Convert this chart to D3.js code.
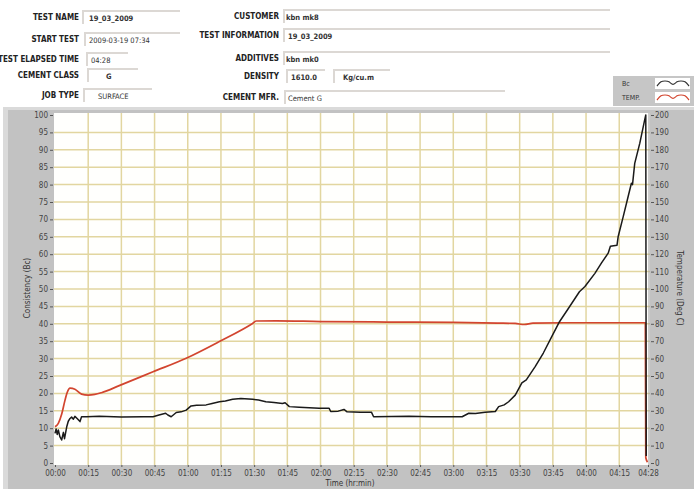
<!DOCTYPE html>
<html>
<head>
<meta charset="utf-8">
<script src="https://cdn.jsdelivr.net/npm/d3@7"></script>
<style>
  body { margin: 0; background: #ffffff; }
  svg { display: block; }
</style>
</head>
<body>
<script>
// Consistometer test chart: Bc (left axis) and temperature (right axis) vs time

// Time in minutes, consistency in Bc
var bcTime  = [0, 0.5, 1, 1.5, 2.2, 3, 3.8, 4.3, 5.3, 6, 6.8, 7.5, 8.3, 9, 10, 11.3, 12, 14.3, 20, 30, 40, 44.3, 47, 50, 51, 52.5, 54.8, 57, 59.3, 61.5, 64, 68.3, 71, 74.3, 77, 80.3, 84, 89.3, 92, 95.3, 99, 102.8, 104, 105.9, 110.4, 119.4, 123.9, 124.6, 128, 130.6, 132, 138, 143, 144, 160, 170, 184, 187, 190, 194.4, 199, 200.5, 203, 205, 208, 211, 213, 217, 220.7, 224.5, 228, 232, 237, 239.5, 244, 247, 250, 251, 254, 254.5, 256.8, 259, 260.5, 261, 262, 264.3, 266.5, 267, 267.2];
var bcValue = [8.5, 9.8, 8.2, 9.5, 7.6, 6.6, 8.8, 7, 10.4, 12, 12.8, 13.2, 12.6, 13.4, 12.8, 11.9, 13.3, 13.3, 13.4, 13.2, 13.3, 13.3, 13.8, 14.3, 13.8, 13.3, 14.5, 14.7, 15.2, 16.4, 16.6, 16.7, 17.1, 17.6, 17.8, 18.3, 18.5, 18.3, 18.1, 17.6, 17.4, 17.1, 17.3, 16.2, 16, 15.7, 15.7, 14.8, 14.9, 15.4, 14.7, 14.6, 14.6, 13.3, 13.4, 13.3, 13.3, 14.3, 14.2, 14.6, 14.8, 16.2, 16.7, 17.6, 19.5, 23, 23.9, 27.7, 31.6, 36.3, 40.6, 44.4, 49.2, 50.7, 54.5, 57.5, 60.3, 62.3, 62.6, 65, 70.8, 76.5, 80.4, 80, 86.1, 91.9, 98.6, 100, 2];

// Time in minutes, temperature in deg C
var tempTime  = [0, 1.5, 3, 4.5, 5.5, 6.8, 9, 12, 15, 18, 21, 29.3, 44.3, 59.3, 74.3, 89.3, 91, 100, 120, 150, 180, 200, 208, 212, 216, 230, 250, 266.8, 267, 267.8];
var tempValue = [20.8, 22.8, 28, 36, 40.5, 43, 42.4, 39.6, 39, 39.4, 40.4, 44.6, 52.4, 60.2, 69.8, 80.2, 81.6, 81.7, 81.3, 81, 80.8, 80.4, 80.2, 79.6, 80.4, 80.6, 80.6, 80.6, 3, 0.5];

// Tick values
var xTicks = [0, 15, 30, 45, 60, 75, 90, 105, 120, 135, 150, 165, 180, 195, 210, 225, 240, 255, 268];
var leftTicks = d3.range(0, 101, 5);
var rightTicks = d3.range(0, 201, 10);

// Header fields: label, value
var headerLeft = [
  ["TEST NAME", "19_03_2009"],
  ["START TEST", "2009-03-19 07:34"],
  ["TEST ELAPSED TIME", "04:28"],
  ["CEMENT CLASS", "G"],
  ["JOB TYPE", "SURFACE"]
];
var headerRight = [
  ["CUSTOMER", "kbn mk8"],
  ["TEST INFORMATION", "19_03_2009"],
  ["ADDITIVES", "kbn mk0"],
  ["DENSITY", "1610.0"],
  ["CEMENT MFR.", "Cement G"]
];
var legendNames = ["Bc", "TEMP."];

var width = 694, height = 489;
var font = "'DejaVu Sans Condensed', 'DejaVu Sans', sans-serif";
var red = "#d2452f";

var svg = d3.select("body").append("svg")
  .attr("width", width)
  .attr("height", height);

// ---- header ----
// label y, field box left/width, value x, bold
var leftRows = [
  {y: 20, bx: 83, bw: 97, tx: 89, bold: true},
  {y: 42, bx: 85, bw: 95, tx: 89, bold: false},
  {y: 62, bx: 87, bw: 41, tx: 91, bold: false},
  {y: 78, bx: 88, bw: 50, tx: 106, bold: true},
  {y: 98, bx: 84, bw: 68, tx: 98, bold: false}
];
var rightRows = [
  {y: 19, bx: 284, bw: 326, tx: 286, bold: true},
  {y: 38, bx: 284, bw: 326, tx: 288, bold: true},
  {y: 61, bx: 284, bw: 326, tx: 286, bold: true},
  {y: 79, bx: 287, bw: 38, tx: 291, bold: true},
  {y: 100, bx: 285, bw: 220, tx: 288, bold: false}
];

function drawField(x, y, w) {
  svg.append("rect")
    .attr("x", x).attr("y", y - 8).attr("width", w).attr("height", 13)
    .attr("fill", "#ffffff");
  svg.append("path")
    .attr("d", "M" + x + "," + (y + 5) + "V" + (y - 8) + "H" + (x + w))
    .attr("fill", "none")
    .attr("stroke", "#dcd8d4")
    .attr("stroke-width", 2);
}

headerLeft.forEach(function(d, i) {
  var r = leftRows[i];
  drawField(r.bx, r.y - 1, r.bw);
  svg.append("text")
    .attr("x", 79).attr("y", r.y)
    .attr("text-anchor", "end")
    .attr("font-family", font).attr("font-size", "8px").attr("font-weight", "bold")
    .attr("fill", "#222")
    .text(d[0]);
  svg.append("text")
    .attr("x", r.tx).attr("y", r.y + 1)
    .attr("font-family", font).attr("font-size", "7.5px")
    .attr("font-weight", r.bold ? "bold" : "normal")
    .attr("fill", "#333")
    .text(d[1]);
});

headerRight.forEach(function(d, i) {
  var r = rightRows[i];
  drawField(r.bx, r.y - 1, r.bw);
  svg.append("text")
    .attr("x", 279).attr("y", r.y)
    .attr("text-anchor", "end")
    .attr("font-family", font).attr("font-size", "8px").attr("font-weight", "bold")
    .attr("fill", "#222")
    .text(d[0]);
  svg.append("text")
    .attr("x", r.tx).attr("y", r.y + 1)
    .attr("font-family", font).attr("font-size", "7.5px")
    .attr("font-weight", r.bold ? "bold" : "normal")
    .attr("fill", "#333")
    .text(d[1]);
});

// density unit box
drawField(334, 78, 56);
svg.append("text")
  .attr("x", 343).attr("y", 80)
  .attr("font-family", font).attr("font-size", "7.5px").attr("font-weight", "bold")
  .attr("fill", "#333")
  .text("Kg/cu.m");

// ---- legend ----
svg.append("rect")
  .attr("x", 613).attr("y", 76).attr("width", 81).attr("height", 30)
  .attr("fill", "#c6c6c6");
var legendColors = ["#333333", red];
var wave = d3.line().curve(d3.curveBasis);
legendNames.forEach(function(name, i) {
  var y0 = 78 + i * 14;
  svg.append("text")
    .attr("x", 622).attr("y", y0 + 8)
    .attr("font-family", font).attr("font-size", "7px")
    .attr("fill", "#333")
    .text(name);
  svg.append("rect")
    .attr("x", 655).attr("y", y0).attr("width", 35).attr("height", 11)
    .attr("fill", "#ffffff");
  var pts = d3.range(0, 9).map(function(k) {
    return [657 + k * 4, y0 + 5.5 + (k % 2 === 0 ? 2.5 : -2.5) * (k % 4 === 0 ? 1 : (k % 4 === 2 ? -1 : 1))];
  });
  svg.append("path")
    .attr("d", wave(pts))
    .attr("fill", "none")
    .attr("stroke", legendColors[i])
    .attr("stroke-width", 1.2);
});

// ---- chart frame ----
svg.append("rect")
  .attr("x", 3).attr("y", 107).attr("width", 691).attr("height", 382)
  .attr("fill", "#dadada");
svg.append("rect")
  .attr("x", 8).attr("y", 110).attr("width", 686).attr("height", 379)
  .attr("fill", "#c2c2c2");

var plotLeft = 54, plotRight = 650, plotTop = 113, plotBottom = 465;

svg.append("rect")
  .attr("x", plotLeft).attr("y", plotTop)
  .attr("width", plotRight - plotLeft).attr("height", plotBottom - plotTop)
  .attr("fill", "#fffffd");

var x = d3.scaleLinear().domain([0, 268]).range([55, 648]);
var yL = d3.scaleLinear().domain([0, 100]).range([463, 115]);
var yR = d3.scaleLinear().domain([0, 200]).range([463, 115]);

// grid
svg.append("g")
  .selectAll("line.h")
  .data(leftTicks.filter(function(v) { return v > 0 && v < 100; }))
  .enter().append("line")
  .attr("x1", plotLeft).attr("x2", plotRight)
  .attr("y1", function(d) { return yL(d); })
  .attr("y2", function(d) { return yL(d); })
  .attr("stroke", "#e2d6a0")
  .attr("stroke-width", 1.5);

svg.append("g")
  .selectAll("line.v")
  .data(xTicks.filter(function(v) { return v > 0 && v < 268; }))
  .enter().append("line")
  .attr("x1", function(d) { return x(d); })
  .attr("x2", function(d) { return x(d); })
  .attr("y1", plotTop).attr("y2", plotBottom)
  .attr("stroke", "#e2d6a0")
  .attr("stroke-width", 1.5);

// right edge of plot
svg.append("line")
  .attr("x1", plotRight - 1).attr("x2", plotRight - 1)
  .attr("y1", plotTop).attr("y2", plotBottom)
  .attr("stroke", "#9a9a9a");

// axes
function fmtTime(m) {
  var h = Math.floor(m / 60), mm = m % 60;
  return (h < 10 ? "0" : "") + h + ":" + (mm < 10 ? "0" : "") + mm;
}

var xAxis = d3.axisBottom(x).tickValues(xTicks).tickFormat(fmtTime).tickSize(2).tickPadding(3);
var leftAxis = d3.axisLeft(yL).tickValues(leftTicks).tickSize(3).tickPadding(2);
var rightAxis = d3.axisRight(yR).tickValues(rightTicks).tickSize(3).tickPadding(1);

function styleAxis(g) {
  g.select(".domain").remove();
  g.selectAll("line").attr("stroke", "#555");
  g.selectAll("text")
    .attr("font-family", font)
    .attr("font-size", "8px")
    .attr("fill", "#444");
}

svg.append("g")
  .attr("transform", "translate(0," + plotBottom + ")")
  .call(xAxis)
  .call(styleAxis);

svg.append("g")
  .attr("transform", "translate(" + (plotLeft - 1) + ",0)")
  .call(leftAxis)
  .call(styleAxis);

svg.append("g")
  .attr("transform", "translate(" + (plotRight + 1) + ",0)")
  .call(rightAxis)
  .call(styleAxis);

// axis titles
svg.append("text")
  .attr("transform", "translate(30,288) rotate(-90)")
  .attr("text-anchor", "middle")
  .attr("font-family", font).attr("font-size", "8px")
  .attr("fill", "#333")
  .text("Consistency (Bc)");

svg.append("text")
  .attr("transform", "translate(677,288) rotate(90)")
  .attr("text-anchor", "middle")
  .attr("font-family", font).attr("font-size", "8px")
  .attr("fill", "#333")
  .text("Temperature (Deg C)");

svg.append("text")
  .attr("x", 350).attr("y", 486)
  .attr("text-anchor", "middle")
  .attr("font-family", font).attr("font-size", "8px")
  .attr("fill", "#333")
  .text("Time (hr:min)");

// ---- series ----
var tempLine = d3.line()
  .x(function(d, i) { return x(tempTime[i]); })
  .y(function(d) { return yR(d); })
  .curve(d3.curveMonotoneX);

var bcLine = d3.line()
  .x(function(d, i) { return x(bcTime[i]); })
  .y(function(d) { return yL(d); });

svg.append("path")
  .attr("d", tempLine(tempValue))
  .attr("fill", "none")
  .attr("stroke", red)
  .attr("stroke-width", 1.7);

svg.append("path")
  .attr("d", bcLine(bcValue))
  .attr("fill", "none")
  .attr("stroke", "#1a1a1a")
  .attr("stroke-width", 1.5)
  .attr("stroke-linejoin", "round");
</script>
</body>
</html>
